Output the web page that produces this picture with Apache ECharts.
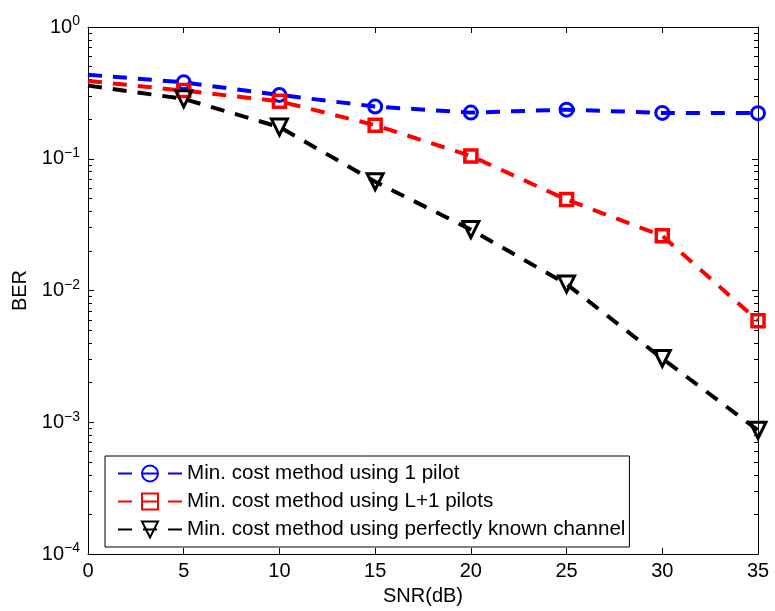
<!DOCTYPE html>
<html>
<head>
<meta charset="utf-8">
<script src="https://cdn.jsdelivr.net/npm/echarts@6/dist/echarts.min.js"></script>
<style>
html, body { margin: 0; padding: 0; background: #fff; }
#chart { width: 775px; height: 611px; }
</style>
</head>
<body>
<div id="chart"></div>
<script>
var snr = [0, 5, 10, 15, 20, 25, 30, 35];
var berOnePilot = [0.434, 0.38, 0.305, 0.249, 0.224, 0.236, 0.223, 0.222];
var berLPlusOne = [0.39, 0.329, 0.273, 0.18, 0.105, 0.049, 0.026, 0.0059];
var berKnown = [0.359, 0.285, 0.174, 0.067, 0.029, 0.0112, 0.00305, 0.00087];
var seriesNames = [
    'Min. cost method using 1 pilot',
    'Min. cost method using L+1 pilots',
    'Min. cost method using perfectly known channel'
];
var xTicks = [0, 5, 10, 15, 20, 25, 30, 35];
var yDecades = [1e-4, 1e-3, 1e-2, 1e-1, 1];

// minor ticks 2..9 inside each decade
var yMinor = [];
for (var d = 0; d < yDecades.length - 1; d++) {
    for (var k = 2; k <= 9; k++) yMinor.push(+(yDecades[d] * k).toPrecision(3));
}

var font = 'Liberation Sans, Arial, sans-serif';

// the first point (SNR 0) has no marker in the original figure
function pairs(ys) {
    return snr.map(function (x, i) {
        return i === 0 ? { value: [x, ys[i]], symbol: 'none' } : [x, ys[i]];
    });
}

function lineSeries(name, ys, color, symbol, size, border, rotate) {
    return {
        name: name,
        type: 'line',
        data: pairs(ys),
        symbol: symbol,
        symbolSize: size,
        symbolRotate: rotate || 0,
        showAllSymbol: true,
        lineStyle: { color: color, width: 4, type: [14, 11] },
        itemStyle: { color: 'rgba(255,255,255,0)', borderColor: color, borderWidth: border },
        emphasis: { disabled: true },
        animation: false
    };
}

var tickAxisBase = {
    type: 'log',
    logBase: 10,
    min: 1e-4,
    max: 1,
    splitLine: { show: false },
    axisLine: { show: false }
};

var chart = echarts.init(document.getElementById('chart'));
chart.setOption({
    backgroundColor: '#fff',
    grid: { left: 88, right: 17, top: 27, bottom: 54 },
    legend: {
        orient: 'vertical',
        left: 105,
        top: 456,
        padding: [7, 4, 7, 12],
        itemWidth: 64,
        itemHeight: 20,
        itemGap: 7,
        borderColor: '#000',
        borderWidth: 1,
        backgroundColor: '#fff',
        textStyle: { fontFamily: font, fontSize: 20.6, lineHeight: 20, color: '#000' },
        data: seriesNames
    },
    xAxis: [{
        type: 'value',
        min: 0,
        max: 35,
        interval: 5,
        name: 'SNR(dB)',
        nameLocation: 'middle',
        nameGap: 25,
        nameTextStyle: { fontFamily: font, fontSize: 20, color: '#000' },
        axisLine: { lineStyle: { color: '#000', width: 1 } },
        axisTick: { inside: true, length: 6, lineStyle: { color: '#000' } },
        axisLabel: { fontFamily: font, fontSize: 20, color: '#000', margin: 7 },
        splitLine: { show: false }
    }, {
        type: 'value',
        position: 'top',
        min: 0,
        max: 35,
        interval: 5,
        axisLine: { lineStyle: { color: '#000', width: 1 } },
        axisTick: { inside: true, length: 6, lineStyle: { color: '#000' } },
        axisLabel: { show: false },
        splitLine: { show: false }
    }],
    yAxis: [{
        type: 'log',
        logBase: 10,
        min: 1e-4,
        max: 1,
        name: 'BER',
        nameLocation: 'middle',
        nameGap: 53,
        nameTextStyle: { fontFamily: font, fontSize: 20, color: '#000' },
        axisLine: { show: true, lineStyle: { color: '#000', width: 1 } },
        axisTick: { inside: true, length: 6, customValues: yDecades, lineStyle: { color: '#000' } },
        axisLabel: {
            customValues: yDecades,
            margin: 8,
            formatter: function (v) {
                var e = Math.round(Math.log10(v));
                return '{b|10}{s|' + (e < 0 ? '\u2212' + (-e) : e) + '}';
            },
            rich: {
                b: { fontFamily: font, fontSize: 20, color: '#000' },
                s: { fontFamily: font, fontSize: 14, color: '#000', padding: [0, 0, 11, 0] }
            }
        },
        splitLine: { show: false }
    }, Object.assign({}, tickAxisBase, {
        position: 'left',
        axisTick: { inside: true, length: 4, customValues: yMinor, lineStyle: { color: '#000' } },
        axisLabel: { show: false }
    }), Object.assign({}, tickAxisBase, {
        position: 'right',
        axisLine: { show: true, lineStyle: { color: '#000', width: 1 } },
        axisTick: { inside: true, length: 6, customValues: yDecades, lineStyle: { color: '#000' } },
        axisLabel: { show: false }
    }), Object.assign({}, tickAxisBase, {
        position: 'right',
        axisTick: { inside: true, length: 4, customValues: yMinor, lineStyle: { color: '#000' } },
        axisLabel: { show: false }
    })],
    series: [
        lineSeries(seriesNames[0], berOnePilot, '#0000ff', 'circle', 13, 3),
        lineSeries(seriesNames[1], berLPlusOne, '#ff0000', 'rect', 12, 3.5),
        lineSeries(seriesNames[2], berKnown, '#000000', 'triangle', 16, 3, 180)
    ]
});
</script>
</body>
</html>
